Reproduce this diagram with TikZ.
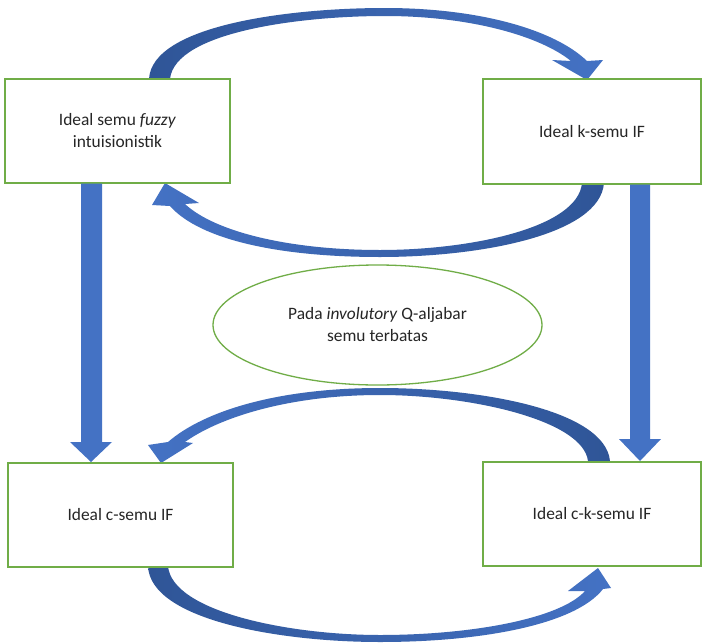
\documentclass[tikz,border=0pt]{standalone}
\usepackage{fontspec}
\setmainfont{Carlito}
\usetikzlibrary{shapes.geometric}
\definecolor{boxgreen}{RGB}{112,173,71}
\definecolor{arrblue}{RGB}{68,114,196}
\definecolor{arrdark}{RGB}{47,85,151}
\begin{document}
\begin{tikzpicture}[x=1pt,y=-1pt,
  txt/.style={font=\fontsize{17.4}{22}\selectfont,align=center,text=black!85},
  box/.style={txt,draw=boxgreen,line width=1.3pt,fill=white,inner sep=0pt},
  oval/.style={txt,ellipse,draw=boxgreen,line width=1.3pt,fill=white,inner sep=0pt,minimum width=329pt,minimum height=120pt},
  blockarrow/.style={fill=arrblue},
  arcarrow/.style={draw=none}
]
\useasboundingbox (0,0) rectangle (702,643);
\fill[white] (0,0) rectangle (702,643);

% curved arrows (drawn under the boxes)
% top: A -> B
\shade[arcarrow,left color=arrdark,right color=arrblue]
  (149,79) .. controls (152,25) and (290,8) .. (385,8)
  .. controls (480,8) and (555,30) .. (587,61)
  -- (603,60) -- (587,80) -- (552,60) -- (571,61)
  .. controls (540,36) and (470,16) .. (385,16)
  .. controls (300,16) and (175,32) .. (170,79) -- cycle;
% second: B -> A
\shade[arcarrow,left color=arrblue,right color=arrdark]
  (604,183) .. controls (600,235) and (480,257) .. (380,257)
  .. controls (280,257) and (200,240) .. (170,206)
  -- (152,205) -- (165,183) -- (199,203) -- (185,204)
  .. controls (215,232) and (290,250) .. (380,250)
  .. controls (470,250) and (578,228) .. (582,183) -- cycle;
% third: D -> C
\shade[arcarrow,left color=arrblue,right color=arrdark]
  (610,461) .. controls (605,410) and (480,388) .. (380,388)
  .. controls (280,388) and (205,410) .. (168,442)
  -- (148,445) -- (161,463) -- (193,443) -- (185,442)
  .. controls (220,417) and (290,395) .. (380,395)
  .. controls (470,395) and (583,420) .. (588,461) -- cycle;
% bottom: C -> D
\shade[arcarrow,left color=arrdark,right color=arrblue]
  (148,566) .. controls (150,620) and (280,642) .. (380,642)
  .. controls (480,642) and (575,625) .. (603,589)
  -- (611,588) -- (598,568) -- (568,591) -- (585,591)
  .. controls (560,619) and (470,635) .. (380,635)
  .. controls (290,635) and (172,612) .. (168,566) -- cycle;

% boxes
\node[box,minimum width=225pt,minimum height=104pt] (A) at (117.5,131)
  {Ideal semu \textit{fuzzy}\\intuisionistik};
\node[box,minimum width=218pt,minimum height=105pt] (B) at (592,131.5)
  {Ideal k-semu IF};
\node[box,minimum width=225pt,minimum height=104pt] (C) at (120.5,515)
  {Ideal c-semu IF};
\node[box,minimum width=218pt,minimum height=104pt] (D) at (592,514)
  {Ideal c-k-semu IF};
\node[oval] (E) at (377.5,325)
  {Pada \textit{involutory} Q-aljabar\\semu terbatas};

% vertical block arrows
\fill[blockarrow] (81,183.5) -- (102,183.5) -- (102,442) -- (112,442)
  -- (91,462) -- (70,442) -- (81,442) -- cycle;
\fill[blockarrow] (630,184.5) -- (650,184.5) -- (650,439) -- (661,439)
  -- (640,461) -- (619,439) -- (630,439) -- cycle;
\end{tikzpicture}
\end{document}
